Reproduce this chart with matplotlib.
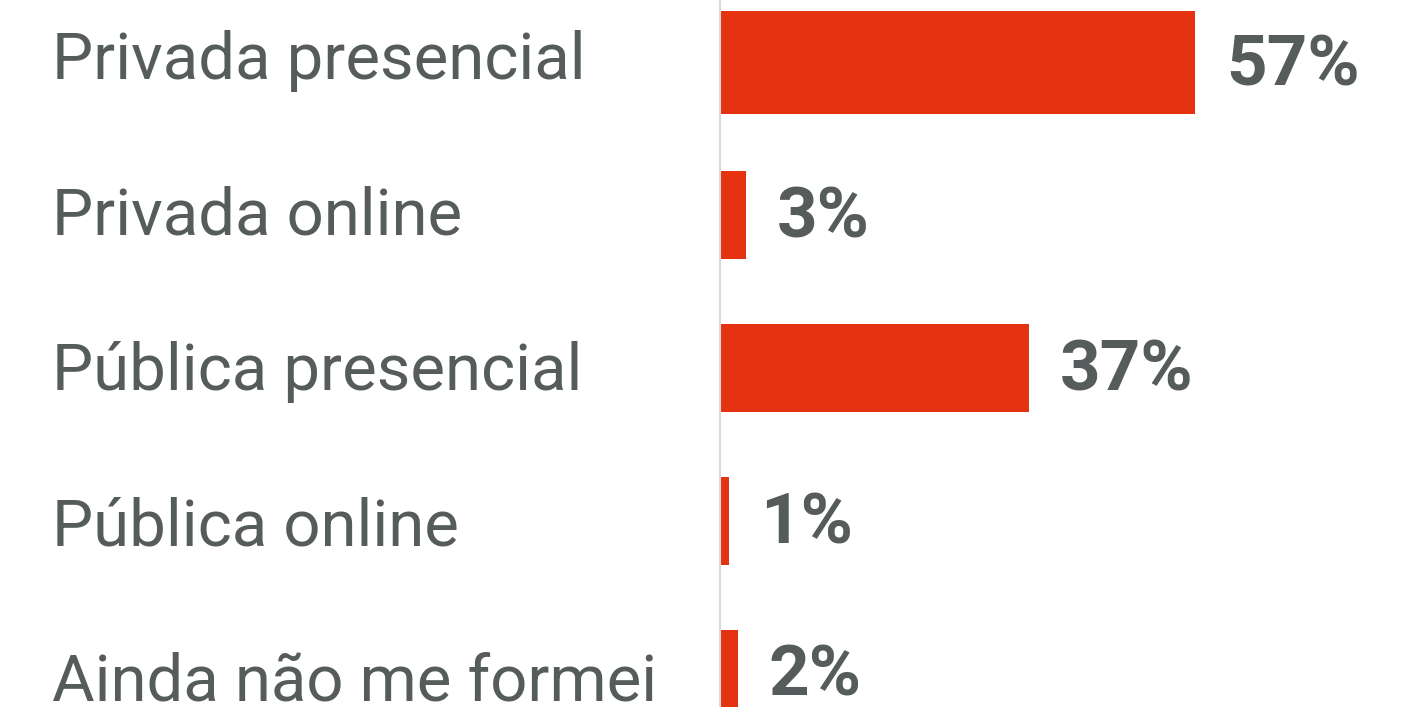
import matplotlib
matplotlib.use("Agg")
import matplotlib.pyplot as plt
from matplotlib.transforms import blended_transform_factory, offset_copy

categories = ["Privada presencial", "Privada online", "Pública presencial",
              "Pública online", "Ainda não me formei"]
values = [57, 3, 37, 1, 2]
value_labels = ["57%", "3%", "37%", "1%", "2%"]

BAR_COLOR = "#E53312"
TEXT_COLOR = "#565B5B"
AXIS_COLOR = "#D9D9D9"

W, H, DPI = 1404, 707, 100
fig = plt.figure(figsize=(W / DPI, H / DPI), dpi=DPI)
fig.patch.set_facecolor("white")

left_px = 721
px_per_unit = 8.32
spacing_px = 152.75
first_center_px = 62.5

ax = fig.add_axes([left_px / W, 0, 1 - left_px / W, 1])
ax.set_xlim(0, (W - left_px) / px_per_unit)
ax.set_ylim((H - first_center_px) / spacing_px, -first_center_px / spacing_px)

heights = [0.668, 0.576, 0.576, 0.576, 0.576]
ypos = list(range(len(categories)))
ax.barh(ypos, values, height=heights, color=BAR_COLOR, zorder=2)

for s in ["top", "right", "bottom"]:
    ax.spines[s].set_visible(False)
ax.spines["left"].set_color(AXIS_COLOR)
ax.spines["left"].set_linewidth(1.5)
ax.spines["left"].set_position(("outward", 1))
ax.set_xticks([])
ax.set_yticks([])

# category labels
trans = blended_transform_factory(fig.transFigure, ax.transData)
for i, cat in enumerate(categories):
    t = offset_copy(trans, fig=fig, x=0, y=-(16.2 + 2.7 * i) * 72 / DPI, units="points")
    ax.text(52 / W, i, cat, transform=t, ha="left", va="baseline",
            fontsize=47, color=TEXT_COLOR, family=["Roboto", "DejaVu Sans"])

# value labels
for i, (v, lab) in enumerate(zip(values, value_labels)):
    ax.annotate(lab, xy=(v, i), xytext=(31 * 72 / DPI, -22.5 * 72 / DPI),
                textcoords="offset points", ha="left", va="baseline",
                fontsize=51, fontweight="bold", color=TEXT_COLOR,
                family=["Roboto", "DejaVu Sans"], annotation_clip=False)

fig.savefig("out.png", dpi=DPI, facecolor="white")
